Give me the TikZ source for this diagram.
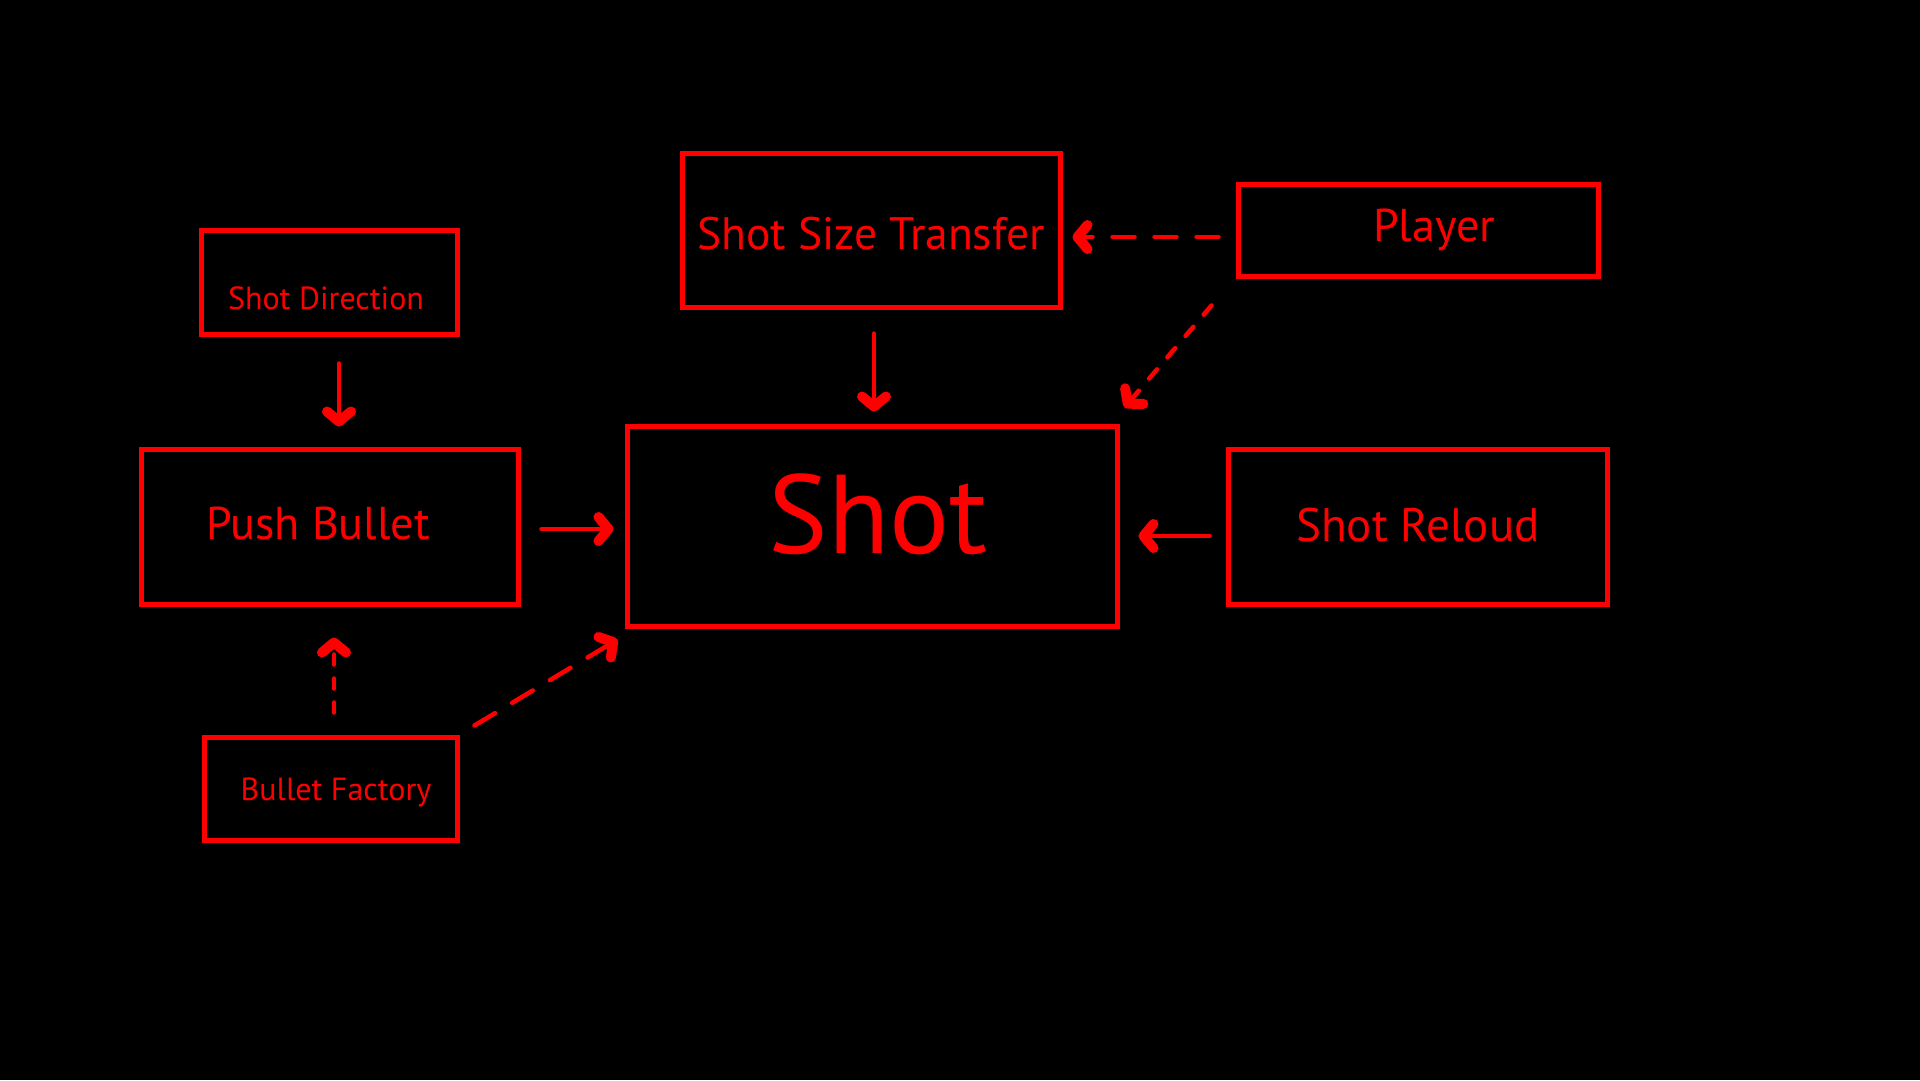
\documentclass[tikz,border=0pt]{standalone}
\usepackage{fontspec}
\setmainfont{PT Sans}
\usetikzlibrary{arrows.meta}
\definecolor{rd}{RGB}{255,0,0}
\tikzset{
  box/.style={draw=rd, line width=5pt, inner sep=0pt},
  lbl/.style={text=rd, inner sep=0pt, anchor=base},
  con/.style={draw=rd, line width=4.5pt, line cap=round,
    -{Straight Barb[length=10pt, width=24pt, line width=10pt, round]}},
}
\newcommand{\fs}[1]{\fontsize{#1}{#1}\selectfont}
\begin{document}
\begin{tikzpicture}[x=1pt, y=-1pt]
\fill[black] (0,0) rectangle (1920,1080);
\useasboundingbox (0,0) rectangle (1920,1080);
% boxes
\node[box, minimum width=256pt, minimum height=104pt] (sd) at (329,282) {};
\node[box, minimum width=377pt, minimum height=155pt] (pb) at (329.5,526.5) {};
\node[box, minimum width=253pt, minimum height=103pt] (bf) at (330.5,788.5) {};
\node[box, minimum width=378pt, minimum height=154pt] (sst) at (871,230) {};
\node[box, minimum width=490pt, minimum height=200pt] (shot) at (872,526) {};
\node[box, minimum width=360pt, minimum height=92pt] (pl) at (1418,230) {};
\node[box, minimum width=379pt, minimum height=155pt] (sr) at (1417.5,526.5) {};
% labels
\node[lbl] (tsd) at (326,309) {\fs{32}Shot Direction};
\node[lbl] (tpb) at (318,539) {\fs{46}Push Bullet};
\node[lbl] (tbf) at (336,800) {\fs{32}Bullet Factory};
\node[lbl] (tsst) at (871,249) {\fs{45.5}Shot Size Transfer};
\node[lbl] (tshot) at (878,553) {\fs{112}Shot};
\node[lbl] (tpl) at (1434,241) {\fs{46}Player};
\node[lbl] (tsr) at (1418,541) {\fs{47}Shot Reloud};
% connectors
\draw[con, shorten <=27pt, shorten >=20pt] ([xshift=10pt]sd.south) -- ([xshift=9.5pt]pb.north);
\draw[con, shorten <=24pt, shorten >=12pt] ([xshift=3pt]sst.south) -- ([xshift=2pt]shot.north);
\draw[con, shorten <=21pt, shorten >=11pt] ([yshift=-2.5pt]pb.east) -- ([yshift=-3pt]shot.west);
\draw[con, shorten <=16pt, shorten >=19pt] ([yshift=-9.5pt]sr.west) -- ([yshift=-10pt]shot.east);
\draw[con, dash pattern=on 22pt off 20pt, shorten <=17pt, shorten >=10pt] ([yshift=-7pt]pl.west) -- ([yshift=-7pt]sst.east);
\draw[con, dash pattern=on 12pt off 16pt] ([xshift=-24pt,yshift=-27pt]pl.south west) -- ([xshift=5pt,yshift=16pt]shot.north east);
\draw[con, dash pattern=on 10pt off 14pt] ([xshift=3.5pt,yshift=22pt]bf.north) -- ([xshift=4.5pt,yshift=-31pt]pb.south);
\draw[con, dash pattern=on 24pt off 20pt] ([xshift=15pt,yshift=9pt]bf.north east) -- ([xshift=-7pt,yshift=-11pt]shot.south west);
\end{tikzpicture}
\end{document}
